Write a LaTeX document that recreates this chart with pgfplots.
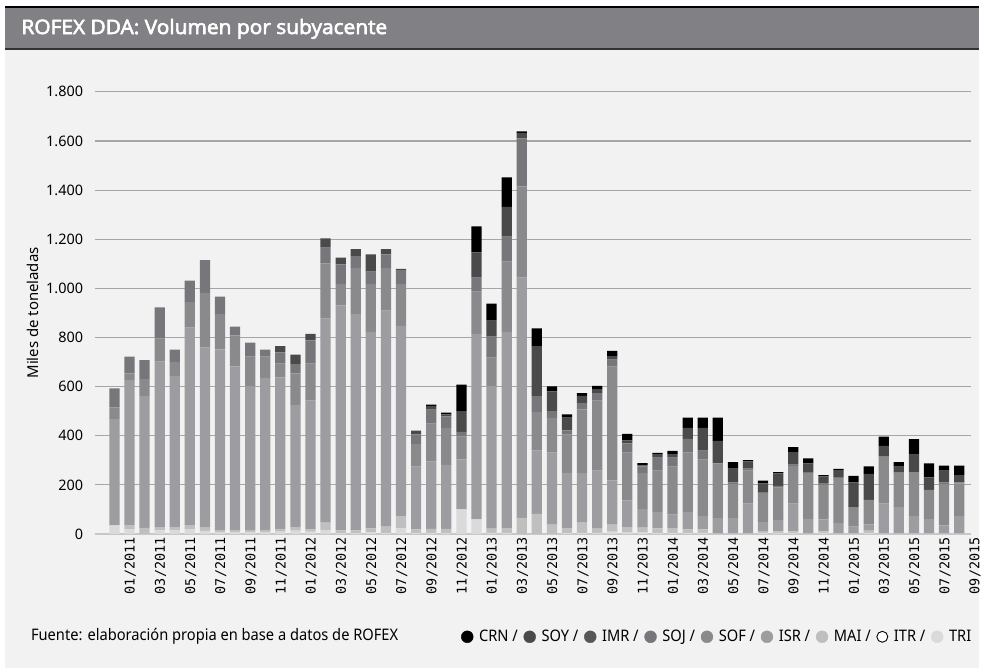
\documentclass[border=0pt]{standalone}
\usepackage{pgfplots}
\pgfplotsset{compat=1.18}
\usepackage{pgfplotstable}
\usepackage{graphicx}
\usepackage{fontspec}
\setmainfont{Noto Sans}[AutoFakeBold=2.2]
\newfontfamily\titlefont{Open Sans}[AutoFakeBold=3]
\newfontfamily\monofont{DejaVu Sans Mono}

\definecolor{bgc}{HTML}{F2F2F2}
\definecolor{titlec}{HTML}{818185}
\definecolor{gridc}{HTML}{A6A6A6}
\definecolor{basec}{HTML}{C8C8C8}
\definecolor{cTRI}{HTML}{DADADA}
\definecolor{cMAI}{HTML}{BFBFBF}
\definecolor{cISR}{HTML}{9D9DA1}
\definecolor{cSOF}{HTML}{8A8A8C}
\definecolor{cSOJ}{HTML}{77777B}
\definecolor{cIMR}{HTML}{666666}
\definecolor{cSOY}{HTML}{4A4A4A}
\definecolor{cCRN}{HTML}{000000}

% mes TRI MAI ISR SOF SOJ IMR SOY CRN (miles de toneladas)
\pgfplotstableread{
m  TRI MAI ISR SOF SOJ IMR SOY CRN
1  35  0   433 47  78  0 0   0
2  20  16  590 28  68  0 0   0
3  0   25  536 69  78  0 0   0
4  15  13  674 93  128 0 0   0
5  15  13  616 57  50  0 0   0
6  20  16  804 104 87  0 0   0
7  13  13  733 222 134 0 0   0
8  8   8   736 144 70  0 0   0
9  8   8   666 127 35  0 0   0
10 8   8   585 121 57  0 0   0
11 8   8   620 86  29  0 0   0
12 10  11  617 56  45  0 26  0
13 14  14  497 129 38  0 38  0
14 10  9   524 151 94  0 27  0
15 16  30  831 225 64  0 37  0
16 5   10  916 86  81  0 27  0
17 5   10  881 186 49  0 29  0
18 8   15  800 194 51  0 70  0
19 5   25  879 173 56  0 22  0
20 23  50  774 170 57  0 5   0
21 5   14  255 92  40  0 15  0
22 5   16  274 154 57  0 16  5
23 5   16  260 151 47  0 8   7
24 100 0   204 92  20  0 84  108
25 59  0   756 172 57  0 102 106
26 5   17  581 115 85  0 66  69
27 5   19  799 286 102 0 121 120
28 0   66  978 371 195 0 23  6
29 0   82  257 157 65  0 204 72
30 0   38  293 141 28  0 81  20
31 5   19  224 157 17  0 52  13
32 5   41  202 259 26  0 29  11
33 5   17  236 285 30  0 17  13
34 10  28  180 463 29  0 14  21
35 8   20  109 194 38  0 12  27
36 8   18  75  147 27  0 4   9
37 5   18  66  169 53  0 12  7
38 5   19  55  195 37  0 12  15
39 5   14  70  242 56  0 45  42
40 5   14  54  230 36  0 93  42
41 0   4   61  222 0   0 92  95
42 0   4   61  137 8   0 56  27
43 0   4   120 134 8   0 30  5
44 5   5   39  117 4   0 36  11
45 5   6   46  132 7   0 51  5
46 5   6   113 152 6   0 51  21
47 0   4   57  187 4   0 35  21
48 5   6   49  140 5   0 30  5
49 0   4   40  183 4   0 29  5
50 0   4   26  79  0   0 101 27
51 5   9   25  100 0   0 106 30
52 0   4   120 191 0   0 44  37
53 0   4   105 141 0   0 24  19
54 0   4   69  179 0   0 71  63
55 0   4   57  119 0   0 50  57
56 0   4   31  167 8   0 48  20
57 0   4   69  133 4   0 30  38
}\datatable

\newcommand{\lgtxt}[1]{\scalebox{0.92}[1]{#1}}

\begin{document}
\begin{tikzpicture}[x=1pt,y=1pt]
\fill[white] (0,0) rectangle (984,671);
\fill[bgc] (5,0) rectangle (984,664);
\fill[titlec] (5,621) rectangle (984,664);
\draw[black,line width=1.5pt] (5,664) -- (984,664);
\draw[black!80,line width=1.5pt] (5,621.5) -- (984,621.5);
\node[anchor=west,text=white,font=\titlefont\bfseries\fontsize{20}{22}\selectfont] at (18,642) {\scalebox{1.05}[1]{ROFEX DDA: Volumen por subyacente}};
\node[anchor=west,font=\fontsize{16}{18}\selectfont,inner sep=0pt] at (31,31) {\lgtxt{Fuente: elaboración propia en base a datos de ROFEX}};

\begin{axis}[
    at={(95pt,134.3pt)}, anchor=south west,
    scale only axis,
    width=881pt, height=444.4pt,
    xmin=-0.32, xmax=57.79,
    ymin=0, ymax=1800,
    ybar stacked,
    bar width=10.3pt,
    axis x line*=bottom, axis y line*=left,
    x axis line style={draw=basec,line width=1.5pt},
    y axis line style={draw=none},
    major tick length=0pt,
    ymajorgrids,
    grid style={draw=gridc,line width=1.1pt},
    ytick={0,200,...,1800},
    yticklabel style={font=\fontsize{14.5}{16}\selectfont,xshift=-8pt},
    /pgf/number format/.cd, assume math mode=true, 1000 sep={.},
    /pgfplots/.cd,
    xtick={1,3,...,57},
    xticklabels={01/2011,03/2011,05/2011,07/2011,09/2011,11/2011,
        01/2012,03/2012,05/2012,07/2012,09/2012,11/2012,
        01/2013,03/2013,05/2013,07/2013,09/2013,11/2013,
        01/2014,03/2014,05/2014,07/2014,09/2014,11/2014,
        01/2015,03/2015,05/2015,07/2015,09/2015},
    xticklabel style={rotate=90,anchor=east,font=\monofont\fontsize{13.5}{15}\selectfont,yshift=-16pt},
    ylabel={Miles de toneladas},
    ylabel style={at={(axis description cs:-0.0704,0.5)},anchor=center,font=\fontsize{15}{17}\selectfont},
    legend style={at={(axis description cs:1.005,-0.2325)},anchor=east,draw=none,fill=none,
        font=\fontsize{16}{18}\selectfont,legend columns=9,
        nodes={inner sep=1pt},
        /tikz/every odd column/.append style={column sep=4.7pt},
        /tikz/every even column/.append style={column sep=4.7pt}},
    legend cell align=left,
]
\addplot+[forget plot,fill=cTRI,draw=none] table[x=m,y=TRI] {\datatable};
\addplot+[forget plot,fill=cMAI,draw=none] table[x=m,y=MAI] {\datatable};
\addplot+[forget plot,fill=cISR,draw=none] table[x=m,y=ISR] {\datatable};
\addplot+[forget plot,fill=cSOF,draw=none] table[x=m,y=SOF] {\datatable};
\addplot+[forget plot,fill=cSOJ,draw=none] table[x=m,y=SOJ] {\datatable};
\addplot+[forget plot,fill=cIMR,draw=none] table[x=m,y=IMR] {\datatable};
\addplot+[forget plot,fill=cSOY,draw=none] table[x=m,y=SOY] {\datatable};
\addplot+[forget plot,fill=cCRN,draw=none] table[x=m,y=CRN] {\datatable};

\addlegendimage{legend image code/.code={\fill[black] (6pt,0pt) circle (6pt);}}
\addlegendentry{\lgtxt{CRN /}}
\addlegendimage{legend image code/.code={\fill[cSOY] (6pt,0pt) circle (6pt);}}
\addlegendentry{\lgtxt{SOY /}}
\addlegendimage{legend image code/.code={\fill[cIMR!110] (6pt,0pt) circle (6pt);}}
\addlegendentry{\lgtxt{IMR /}}
\addlegendimage{legend image code/.code={\fill[cSOJ] (6pt,0pt) circle (6pt);}}
\addlegendentry{\lgtxt{SOJ /}}
\addlegendimage{legend image code/.code={\fill[cSOF] (6pt,0pt) circle (6pt);}}
\addlegendentry{\lgtxt{SOF /}}
\addlegendimage{legend image code/.code={\fill[cISR] (6pt,0pt) circle (6pt);}}
\addlegendentry{\lgtxt{ISR /}}
\addlegendimage{legend image code/.code={\fill[cMAI] (6pt,0pt) circle (6pt);}}
\addlegendentry{\lgtxt{MAI /}}
\addlegendimage{legend image code/.code={\draw[black,fill=white,line width=0.9pt] (6pt,0pt) circle (5.5pt);}}
\addlegendentry{\lgtxt{ITR /}}
\addlegendimage{legend image code/.code={\fill[cTRI] (6pt,0pt) circle (6pt);}}
\addlegendentry{\lgtxt{TRI}}
\end{axis}
\end{tikzpicture}
\end{document}
